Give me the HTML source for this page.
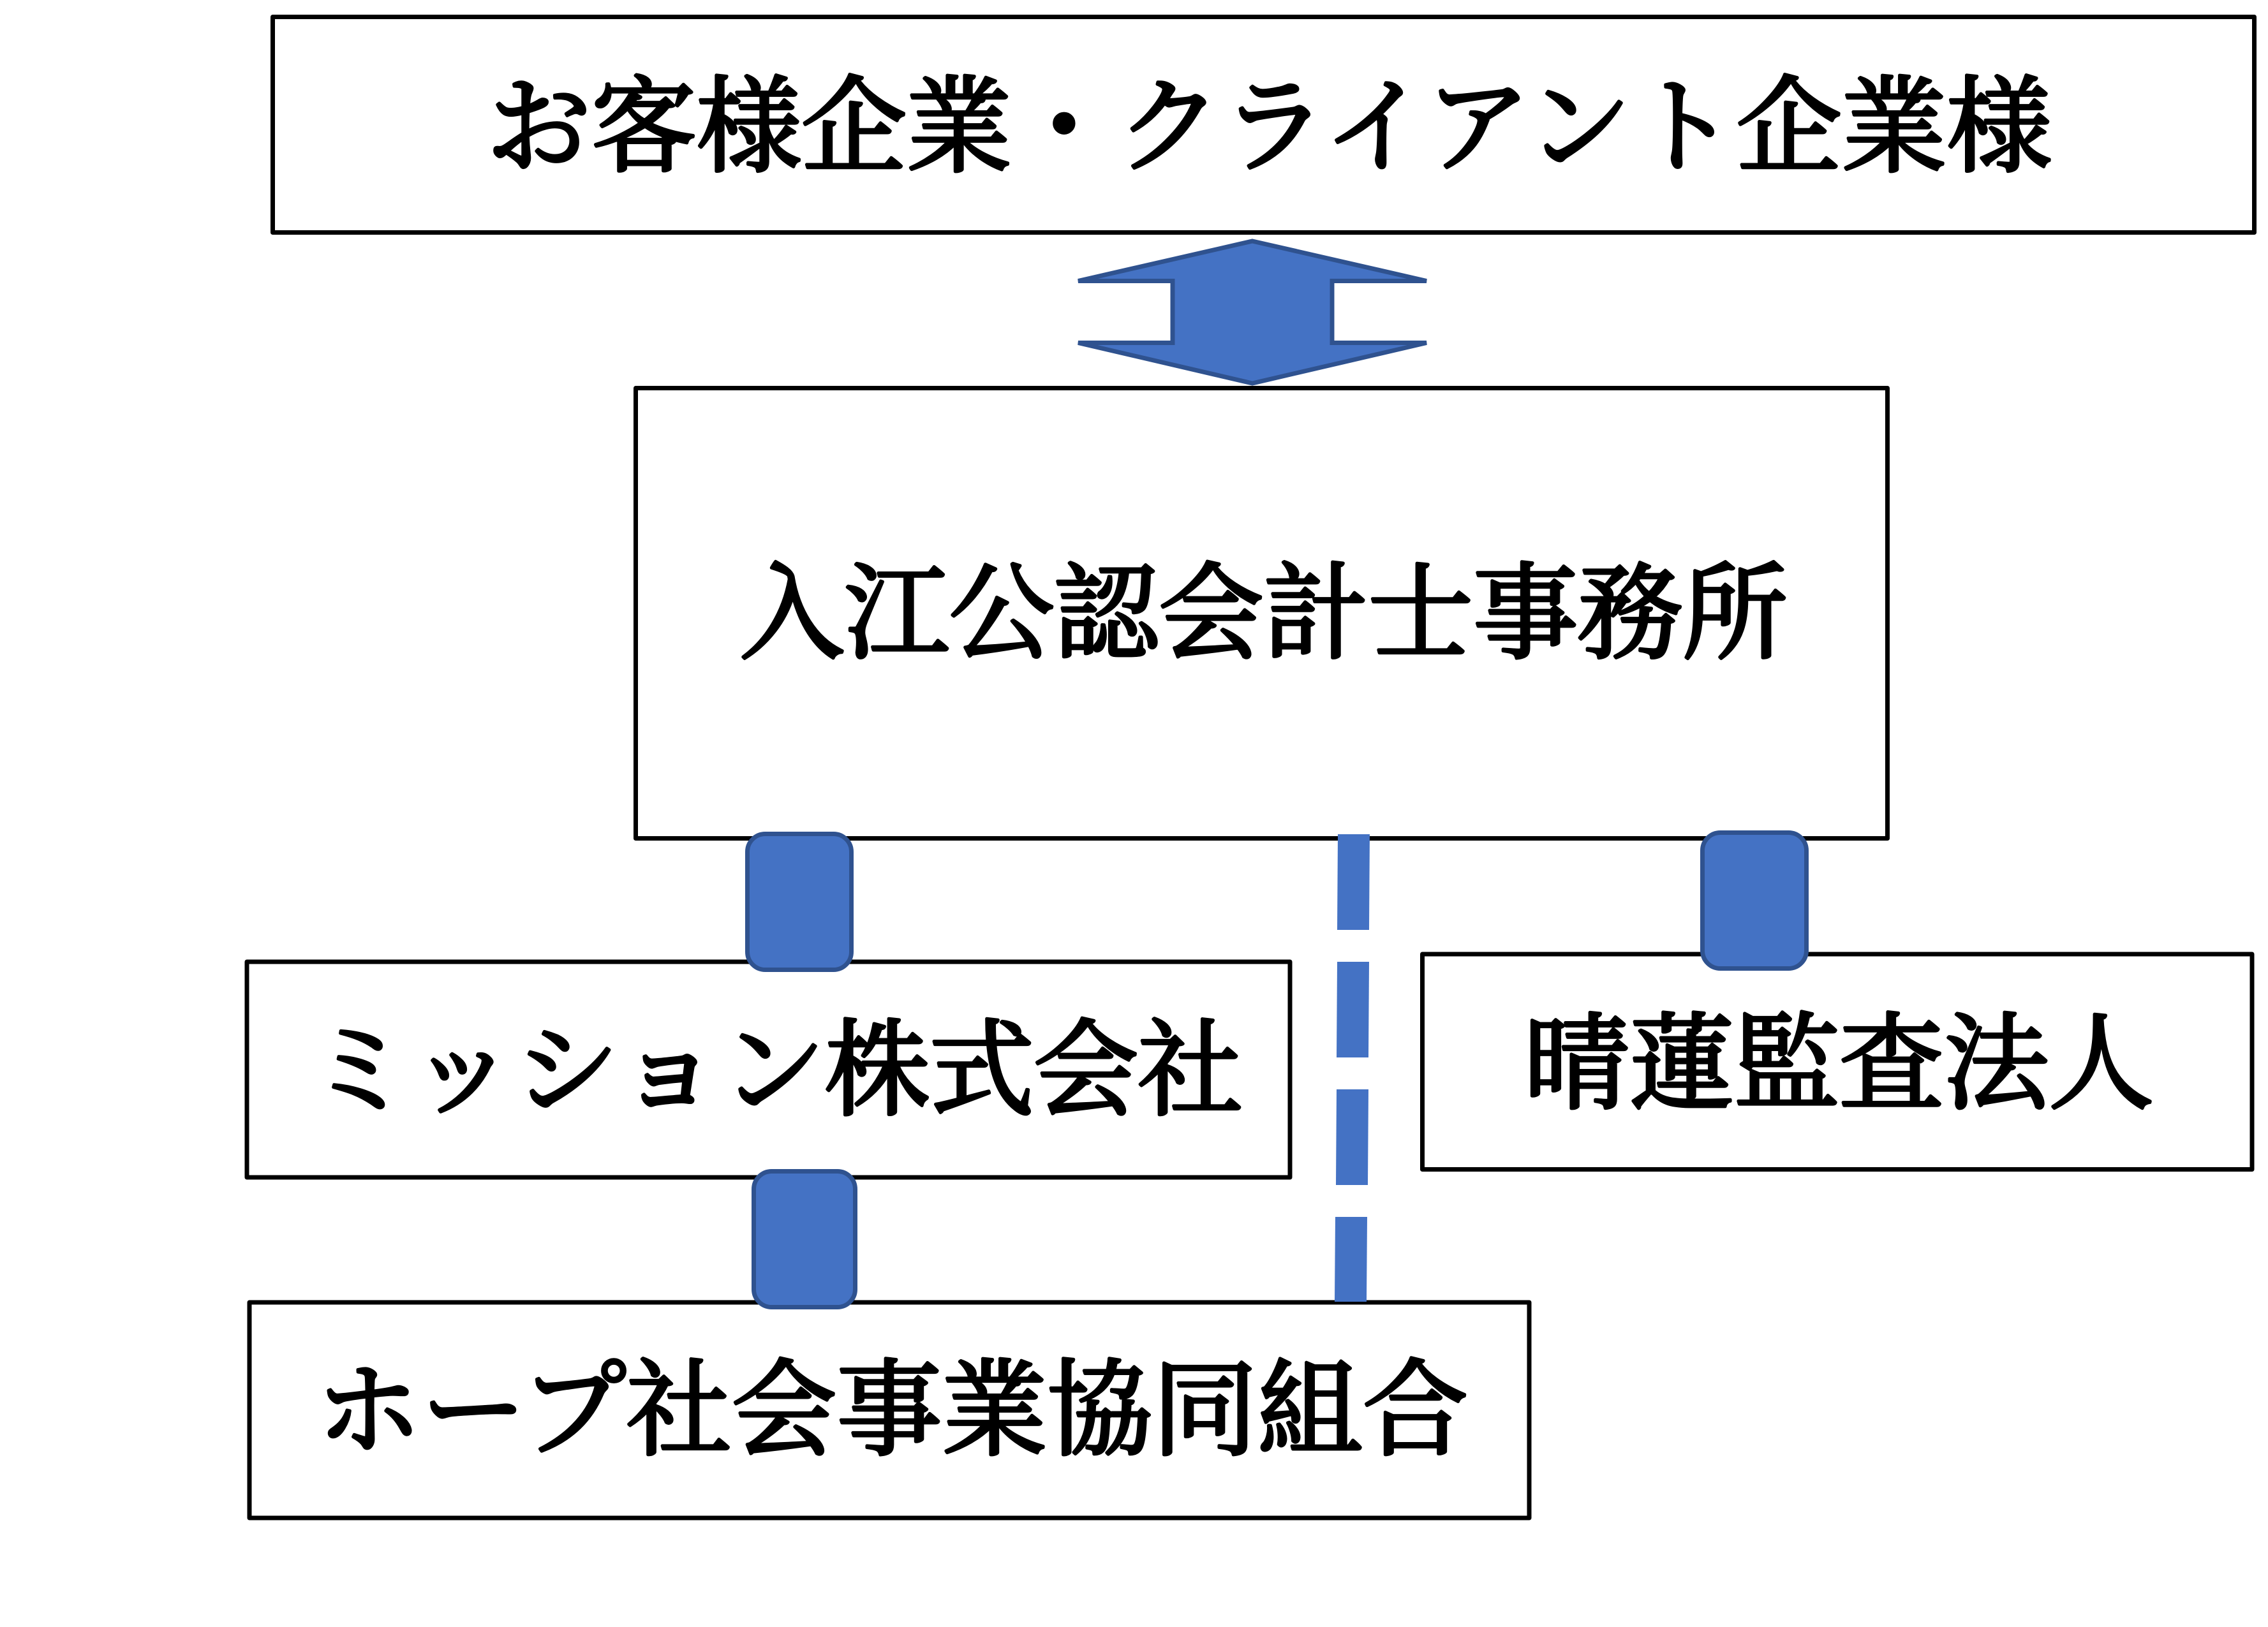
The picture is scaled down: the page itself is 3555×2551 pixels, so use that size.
<!DOCTYPE html>
<html><head><meta charset="utf-8">
<style>
html,body{margin:0;padding:0;background:#fff;}
svg{display:block;}
text{font-family:"Liberation Serif","Noto Serif CJK SC",serif;font-weight:400;font-size:165px;fill:#000;stroke:#000;stroke-width:5;stroke-linejoin:round;}
</style></head>
<body>
<svg width="3555" height="2551" viewBox="0 0 3555 2551" xmlns="http://www.w3.org/2000/svg">
<rect x="0" y="0" width="3555" height="2551" fill="#fff"/>
<!-- boxes -->
<g fill="#fff" stroke="#000" stroke-width="7" stroke-linejoin="round">
<rect x="427.5" y="26.5" width="3106" height="338"/>
<rect x="996.5" y="608.5" width="1962" height="706"/>
<rect x="387" y="1508" width="1635" height="338"/>
<rect x="2229.5" y="1496" width="1300.5" height="337.5"/>
<rect x="391" y="2042" width="2006" height="338"/>
</g>
<!-- double arrow -->
<polygon points="1963,378 2236,440.5 2088,440.5 2088,537.5 2236,537.5 1963,601 1690,537.5 1838,537.5 1838,440.5 1690,440.5" fill="#4472C4" stroke="#2F528F" stroke-width="7" stroke-linejoin="miter" stroke-miterlimit="2"/>
<!-- dashed line -->
<g fill="#4472C4">
<polygon points="2097,1308 2147,1308 2146,1458 2096,1458"/>
<polygon points="2096,1508 2146,1508 2145,1658 2095,1658"/>
<polygon points="2095,1708 2145,1708 2144,1858 2094,1858"/>
<polygon points="2093,1908 2143,1908 2142,2041 2092,2041"/>
</g>
<!-- connectors -->
<g fill="#4472C4" stroke="#2F528F" stroke-width="7">
<rect x="1171.5" y="1307.5" width="163" height="213" rx="28" ry="28"/>
<rect x="2668.5" y="1305.5" width="163" height="213" rx="28" ry="28"/>
<rect x="1181.5" y="1836.5" width="159" height="213" rx="28" ry="28"/>
</g>
<!-- labels -->
<text x="762" y="256" textLength="2454" lengthAdjust="spacing">お客様企業・クライアント企業様</text>
<text x="1159" y="1019" textLength="1643" lengthAdjust="spacing">入江公認会計士事務所</text>
<text x="482" y="1735" textLength="1466" lengthAdjust="spacing">ミッション株式会社</text>
<text x="2389" y="1725" textLength="987" lengthAdjust="spacing">晴蓮監査法人</text>
<text x="495" y="2268" textLength="1806" lengthAdjust="spacing">ホープ社会事業協同組合</text>
</svg>
</body></html>
